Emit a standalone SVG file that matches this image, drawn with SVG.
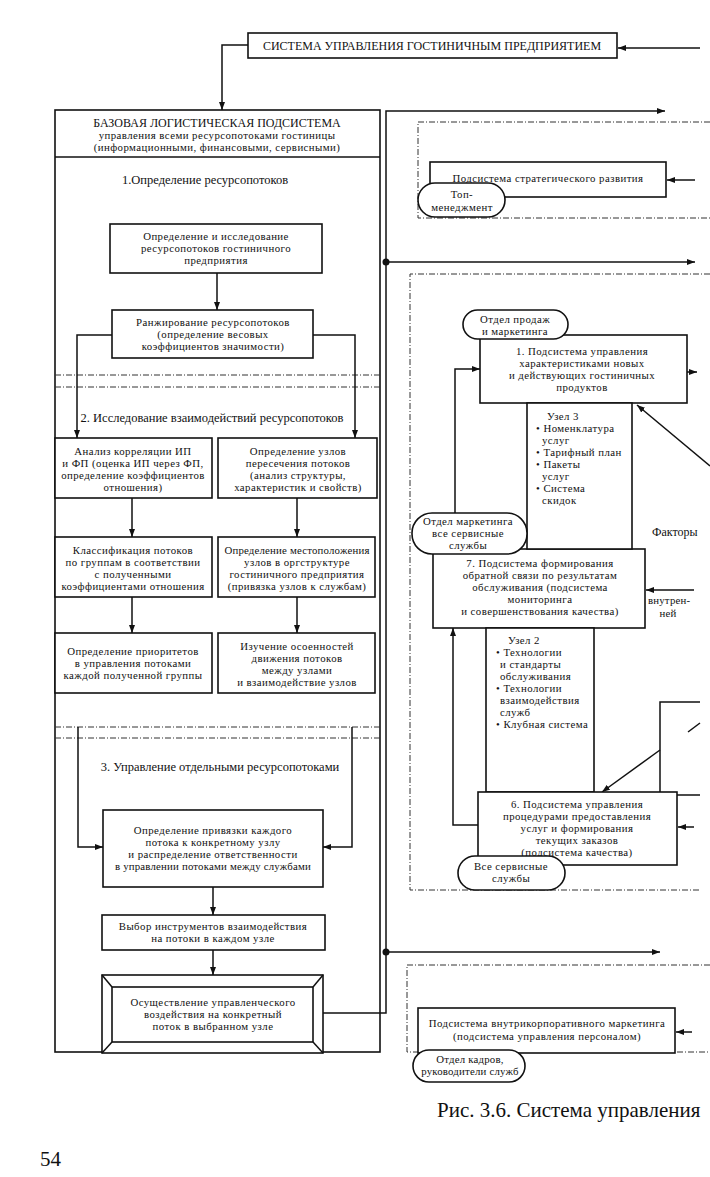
<svg xmlns="http://www.w3.org/2000/svg" width="710" height="1177" viewBox="0 0 710 1177">
<defs>
<marker id="ah" viewBox="0 0 8 6" refX="8" refY="3" markerWidth="8" markerHeight="6" markerUnits="userSpaceOnUse" orient="auto">
<path d="M0,0 L8,3 L0,6 z" fill="#111"/>
</marker>
<style>
.b{fill:#fff;stroke:#111;stroke-width:1.6}
.l{fill:none;stroke:#111;stroke-width:1.5}
.d{fill:none;stroke:#333;stroke-width:1;stroke-dasharray:6 2 1 2}
.a{fill:none;stroke:#111;stroke-width:1.5;marker-end:url(#ah)}
text{font-family:"Liberation Serif","Times New Roman",serif;font-size:10.8px;letter-spacing:0.45px;fill:#111}
.c{text-anchor:middle}
.s{font-size:12.5px;letter-spacing:0}
.h{font-size:12px;letter-spacing:0}
.t{letter-spacing:0.2px}
</style>
</defs>
<rect width="710" height="1177" fill="#fff"/>

<g id="frames">
<rect class="b" x="55" y="110" width="325" height="942"/>
<line class="l" x1="55" y1="157" x2="380" y2="157"/>
<line class="d" x1="55" y1="375" x2="380" y2="375"/>
<line class="d" x1="55" y1="387" x2="380" y2="387"/>
<line class="d" x1="55" y1="727" x2="380" y2="727"/>
<line class="d" x1="55" y1="738" x2="380" y2="738"/>
<path class="d" d="M710,122 H418 V218 H710"/>
<path class="d" d="M710,274 H410 V890 H700"/>
<path class="d" d="M710,965 H407 V1052 H710"/>
</g>

<g id="connectors">
<polyline class="a" points="248,45 222,45 222,110"/>
<line class="a" x1="700" y1="48" x2="618" y2="48"/>
<line class="a" x1="217" y1="273" x2="217" y2="310"/>
<polyline class="a" points="112,335 77,335 77,438"/>
<polyline class="a" points="313,335 355,335 355,438"/>
<line class="a" x1="132" y1="498" x2="132" y2="537"/>
<line class="a" x1="297" y1="498" x2="297" y2="537"/>
<line class="a" x1="132" y1="597" x2="132" y2="633"/>
<line class="a" x1="297" y1="597" x2="297" y2="633"/>
<polyline class="a" points="78,727 78,847 103,847"/>
<polyline class="a" points="352,727 352,847 323,847"/>
<line class="a" x1="213" y1="887" x2="213" y2="915"/>
<line class="a" x1="213" y1="950" x2="213" y2="975"/>
<polyline class="a" points="323,1013 386,1013 386,111 665,111"/>
<line class="a" x1="386" y1="262" x2="695" y2="262"/>
<line class="a" x1="386" y1="952" x2="660" y2="952"/>
<circle cx="386" cy="262" r="3.5" fill="#111"/>
<circle cx="386" cy="952" r="3.5" fill="#111"/>
<line class="a" x1="695" y1="180" x2="667" y2="180"/>
<line class="a" x1="687" y1="372" x2="697" y2="372"/>
<polyline class="a" points="455,513 455,369 480,369"/>
<line class="a" x1="710" y1="466" x2="637" y2="405"/>
<line class="a" x1="694" y1="590" x2="646" y2="590"/>
<polyline class="a" points="478,825 453,825 453,628"/>
<polyline class="l" points="700,702 660,702 660,795 700,795"/>
<line class="a" x1="660" y1="750" x2="602" y2="792"/>
<line class="l" x1="688" y1="732" x2="700" y2="723"/>
<line class="a" x1="694" y1="827" x2="678" y2="827"/>
<line class="a" x1="692" y1="1032" x2="676" y2="1032"/>
</g>

<g id="n-top">
<rect class="b" x="248" y="33" width="369" height="25"/>
<text class="c h" x="432" y="50">СИСТЕМА УПРАВЛЕНИЯ ГОСТИНИЧНЫМ ПРЕДПРИЯТИЕМ</text>
</g>

<g id="n-base-header">
<text class="c h" x="217" y="127">БАЗОВАЯ ЛОГИСТИЧЕСКАЯ ПОДСИСТЕМА</text>
<text class="c" x="217" y="139">управления всеми ресурсопотоками гостиницы</text>
<text class="c" x="217" y="151">(информационными, финансовыми, сервисными)</text>
</g>

<g id="labels-sections">
<text class="c s" x="205" y="184">1.Определение ресурсопотоков</text>
<text class="c s" x="212" y="422">2. Исследование взаимодействий ресурсопотоков</text>
<text class="c s" x="220" y="771">3. Управление отдельными ресурсопотоками</text>
</g>

<g id="n-a">
<rect class="b" x="110" y="224" width="212" height="49"/>
<text class="c" x="216" y="240">Определение и исследование</text>
<text class="c" x="216" y="252">ресурсопотоков гостиничного</text>
<text class="c" x="216" y="264">предприятия</text>
</g>

<g id="n-b">
<rect class="b" x="112" y="310" width="201" height="48"/>
<text class="c" x="213" y="326">Ранжирование  ресурсопотоков</text>
<text class="c" x="213" y="338">(определение весовых</text>
<text class="c" x="213" y="350">коэффициентов значимости)</text>
</g>

<g id="n-c1">
<rect class="b" x="55" y="438" width="157" height="60"/>
<text class="c" x="133" y="455">Анализ корреляции ИП</text>
<text class="c" x="133" y="467">и ФП (оценка ИП через ФП,</text>
<text class="c" x="133" y="479">определение коэффициентов</text>
<text class="c" x="133" y="491">отношения)</text>
</g>

<g id="n-c2">
<rect class="b" x="218" y="438" width="159" height="60"/>
<text class="c" x="298" y="455">Определение узлов</text>
<text class="c" x="298" y="467">пересечения потоков</text>
<text class="c" x="298" y="479">(анализ структуры,</text>
<text class="c" x="298" y="491">характеристик и свойств)</text>
</g>

<g id="n-d1">
<rect class="b" x="55" y="537" width="157" height="60"/>
<text class="c" x="133" y="554">Классификация потоков</text>
<text class="c" x="133" y="566">по группам в соответствии</text>
<text class="c" x="133" y="578">с полученными</text>
<text class="c" x="133" y="590">коэффициентами отношения</text>
</g>

<g id="n-d2">
<rect class="b" x="218" y="537" width="157" height="60"/>
<text class="c t" x="297" y="554">Определение местоположения</text>
<text class="c" x="297" y="566">узлов в оргструктуре</text>
<text class="c" x="297" y="578">гостиничного предприятия</text>
<text class="c" x="297" y="590">(привязка узлов к службам)</text>
</g>

<g id="n-e1">
<rect class="b" x="55" y="633" width="157" height="60"/>
<text class="c" x="133" y="655">Определение приоритетов</text>
<text class="c" x="133" y="667">в управления потоками</text>
<text class="c" x="133" y="679">каждой полученной группы</text>
</g>

<g id="n-e2">
<rect class="b" x="218" y="633" width="157" height="60"/>
<text class="c" x="297" y="650">Изучение осоенностей</text>
<text class="c" x="297" y="662">движения потоков</text>
<text class="c" x="297" y="674">между узлами</text>
<text class="c" x="297" y="686">и взаимодействие узлов</text>
</g>

<g id="n-f">
<rect class="b" x="103" y="810" width="220" height="77"/>
<text class="c" x="213" y="834">Определение привязки каждого</text>
<text class="c" x="213" y="846">потока к конкретному узлу</text>
<text class="c" x="213" y="858">и распределение ответственности</text>
<text class="c t" x="213" y="870">в управлении потоками между службами</text>
</g>

<g id="n-g">
<rect class="b" x="102" y="915" width="223" height="35"/>
<text class="c" x="213" y="930">Выбор инструментов взаимодействия</text>
<text class="c" x="213" y="942">на потоки в каждом узле</text>
</g>

<g id="n-h">
<rect class="b" x="102" y="975" width="221" height="78"/>
<rect class="b" x="112" y="987" width="201" height="55"/>
<line class="l" x1="102" y1="975" x2="112" y2="987"/>
<line class="l" x1="323" y1="975" x2="313" y2="987"/>
<line class="l" x1="102" y1="1053" x2="112" y2="1042"/>
<line class="l" x1="323" y1="1053" x2="313" y2="1042"/>
<text class="c" x="213" y="1006">Осуществление управленческого</text>
<text class="c" x="213" y="1018">воздействия на конкретный</text>
<text class="c" x="213" y="1030">поток в выбранном узле</text>
</g>

<g id="n-strat">
<rect class="b" x="430" y="162" width="236" height="35"/>
<text class="c" x="548" y="182">Подсистема стратегического развития</text>
</g>
<g id="n-top-mgmt">
<rect class="b" x="418" y="183" width="87" height="34" rx="17"/>
<text class="c" x="462" y="198">Топ-</text>
<text class="c" x="462" y="211">менеджмент</text>
</g>

<g id="n-sub1">
<rect class="b" x="480" y="335" width="207" height="68"/>
<text class="c" x="582" y="355">1. Подсистема управления</text>
<text class="c" x="582" y="367">характеристиками новых</text>
<text class="c" x="582" y="379">и действующих гостиничных</text>
<text class="c" x="582" y="391">продуктов</text>
</g>
<g id="n-sales">
<rect class="b" x="463" y="310" width="105" height="29" rx="14.5"/>
<text class="c" x="515" y="323">Отдел продаж</text>
<text class="c" x="515" y="335">и маркетинга</text>
</g>

<g id="n-sub7">
<rect class="b" x="433" y="549" width="212" height="79"/>
<text class="c" x="540" y="567">7. Подсистема формирования</text>
<text class="c" x="540" y="579">обратной связи по результатам</text>
<text class="c" x="540" y="591">обслуживания (подсистема</text>
<text class="c" x="540" y="603">мониторинга</text>
<text class="c" x="540" y="615">и совершенствования качества)</text>
</g>

<g id="n-node3">
<rect class="b" x="527" y="403" width="105" height="146"/>
<text x="547" y="420">Узел 3</text>
<text x="536" y="432">• Номенклатура</text>
<text x="542" y="444">услуг</text>
<text x="536" y="456">• Тарифный план</text>
<text x="536" y="468">• Пакеты</text>
<text x="542" y="480">услуг</text>
<text x="536" y="492">• Система</text>
<text x="542" y="504">скидок</text>
</g>

<g id="n-mkt">
<rect class="b" x="412" y="513" width="115" height="41" rx="20"/>
<text class="c" x="468" y="525">Отдел маркетинга</text>
<text class="c" x="468" y="537">все сервисные</text>
<text class="c" x="468" y="549">службы</text>
</g>

<g id="n-node2">
<rect class="b" x="486" y="628" width="108" height="164"/>
<text x="508" y="644">Узел 2</text>
<text x="496" y="656">• Технологии</text>
<text x="500" y="668">и стандарты</text>
<text x="500" y="680">обслуживания</text>
<text x="496" y="692">• Технологии</text>
<text x="500" y="704">взаимодействия</text>
<text x="500" y="716">служб</text>
<text x="496" y="728">• Клубная система</text>
</g>

<g id="n-sub6">
<rect class="b" x="478" y="792" width="199" height="73"/>
<text class="c" x="577" y="808">6. Подсистема управления</text>
<text class="c" x="577" y="820">процедурами предоставления</text>
<text class="c" x="577" y="832">услуг и формирования</text>
<text class="c" x="577" y="844">текущих заказов</text>
<text class="c" x="577" y="856">(подсистема качества)</text>
</g>
<g id="n-all">
<rect class="b" x="458" y="856" width="107" height="34" rx="17"/>
<text class="c" x="511" y="870">Все сервисные</text>
<text class="c" x="511" y="882">службы</text>
</g>

<g id="labels-factors">
<text class="h" x="652" y="536">Факторы</text>
<text class="t" x="648" y="604">внутрен-</text>
<text class="c t" x="668" y="617">ней</text>
</g>

<g id="n-intmkt">
<rect class="b" x="418" y="1008" width="257" height="45"/>
<text class="c" x="547" y="1027">Подсистема внутрикорпоративного маркетинга</text>
<text class="c" x="547" y="1040">(подсистема управления персоналом)</text>
</g>
<g id="n-hr">
<rect class="b" x="413" y="1050" width="112" height="32" rx="16"/>
<text class="c t" x="470" y="1063">Отдел кадров,</text>
<text class="c t" x="470" y="1075">руководители служб</text>
</g>

<g id="caption">
<text x="437" y="1117" style="font-size:21px;letter-spacing:0">Рис. 3.6. Система управления</text>
<text x="40" y="1166" style="font-size:21px;letter-spacing:0">54</text>
</g>
</svg>
